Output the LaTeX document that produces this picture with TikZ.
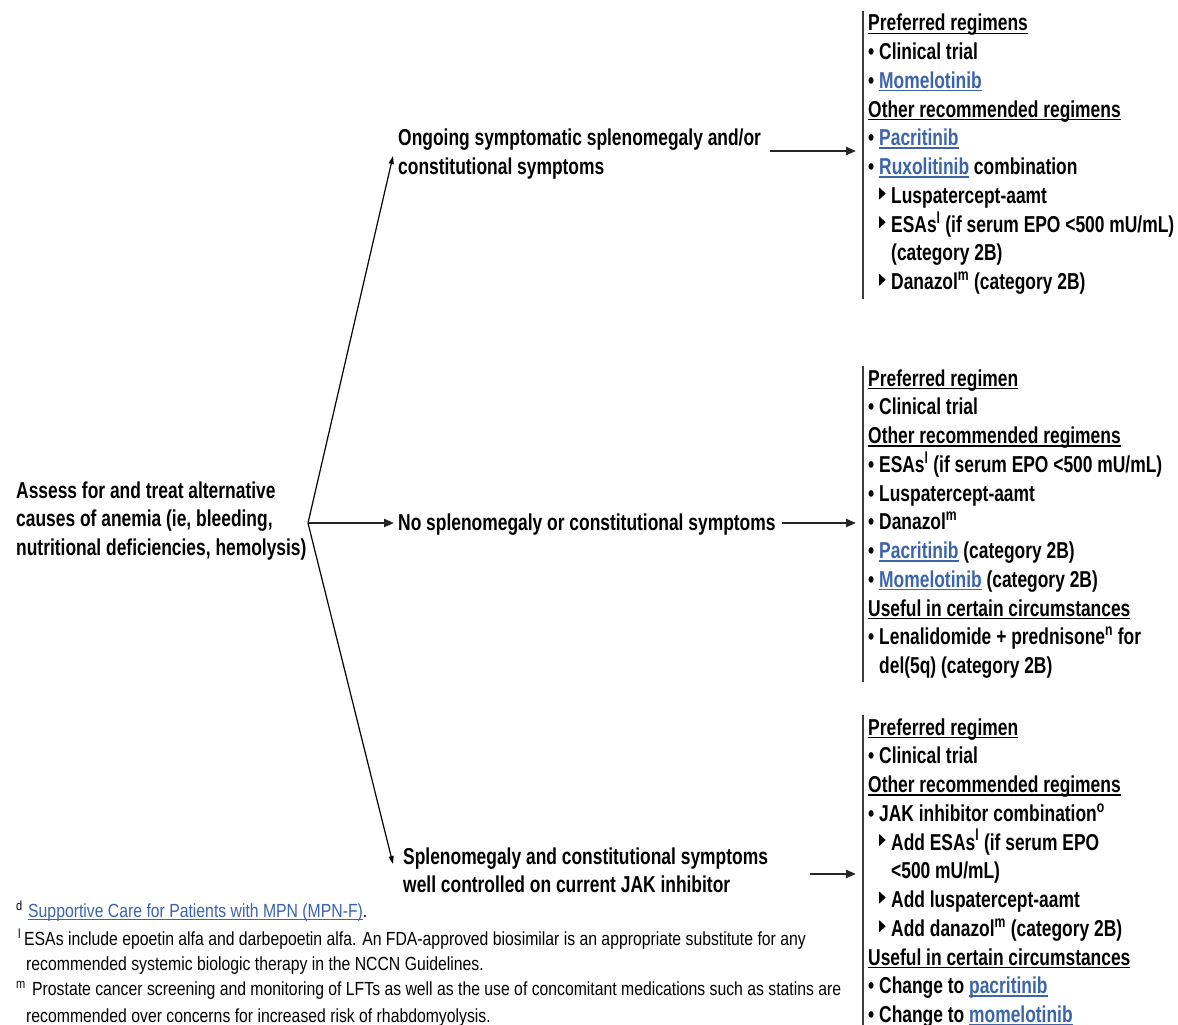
\documentclass[tikz,border=0pt]{standalone}
\usepackage{fontspec}
\setmainfont{Liberation Sans}[FakeStretch=0.757]
\newfontfamily\fnfont{Liberation Sans}[FakeStretch=0.83]
\usetikzlibrary{arrows.meta}
\definecolor{linkblue}{RGB}{60,100,170}
\definecolor{barcol}{RGB}{60,60,60}
\newsavebox\ulb
\newcommand\ulbox[3]{\leavevmode\sbox\ulb{#3}\rlap{\rule[-#1]{\wd\ulb}{#2}}\usebox\ulb}
\newcommand\lnk[1]{\textcolor{linkblue}{\ulbox{3pt}{1.5pt}{#1}}}
\newcommand\flnk[1]{\textcolor{linkblue}{\ulbox{3pt}{1pt}{#1}}}
\newcommand\hd[1]{\ulbox{3.2pt}{1.6pt}{#1}}
\newcommand\tri{\tikz[baseline=0pt]\fill (0pt,4pt)--(0pt,16pt)--(6.5pt,10pt)--cycle;}
\newcommand\bul[1]{\makebox[11pt][l]{•}#1}
\newcommand\subit[1]{\hspace*{11pt}\makebox[12pt][l]{\tri}#1}
\newcommand\contsub[1]{\hspace*{23pt}#1}
\newcommand\contbul[1]{\hspace*{11pt}#1}
\newcommand\sups[1]{\smash{\textsuperscript{#1}}}
\newcommand\fsup[1]{\smash{\textsuperscript{#1}}}
\begin{document}
\begin{tikzpicture}[x=1pt,y=-1pt,
  txt/.style={inner sep=0pt,anchor=base west,font=\fontsize{23}{28.75}\selectfont\bfseries},
  fnote/.style={inner sep=0pt,anchor=base west,font=\fnfont\fontsize{19}{25}\selectfont},
  arr/.style={-{Triangle[length=10pt,width=8pt]},line width=2.2pt,draw=black!85},
  diag/.style={-{Triangle[length=8pt,width=5pt]},line width=1.2pt},
  bar/.style={line width=1.5pt,draw=barcol}]
\useasboundingbox[fill=white] (0,0) rectangle (1178,1025);

% left node
\node[txt] (assess) at (16,498) {\begin{tabular}[t]{@{}l@{}}
Assess for and treat alternative\\
causes of anemia (ie, bleeding,\\
nutritional deficiencies, hemolysis)\end{tabular}};

% middle nodes
\node[txt] (ongoing) at (398,145.5) {\begin{tabular}[t]{@{}l@{}}
Ongoing symptomatic splenomegaly and/or\\
constitutional symptoms\end{tabular}};
\node[txt] (nosplen) at (398,530) {No splenomegaly or constitutional symptoms};
\node[txt] (wellctrl) at (403,864) {\begin{tabular}[t]{@{}l@{}}
Splenomegaly and constitutional symptoms\\
well controlled on current JAK inhibitor\end{tabular}};

% right columns
\node[txt] (col1) at (868,31) {\begin{tabular}[t]{@{}l@{}}
\hd{Preferred regimens}\\
\bul{Clinical trial}\\
\bul{\lnk{Momelotinib}}\\
\hd{Other recommended regimens}\\
\bul{\lnk{Pacritinib}}\\
\bul{\lnk{Ruxolitinib} combination}\\
\subit{Luspatercept-aamt}\\
\subit{ESAs\sups{l} (if serum EPO <500 mU/mL)}\\
\contsub{(category 2B)}\\
\subit{Danazol\sups{m} (category 2B)}\end{tabular}};

\node[txt] (col2) at (868,386) {\begin{tabular}[t]{@{}l@{}}
\hd{Preferred regimen}\\
\bul{Clinical trial}\\
\hd{Other recommended regimens}\\
\bul{ESAs\sups{l} (if serum EPO <500 mU/mL)}\\
\bul{Luspatercept-aamt}\\
\bul{Danazol\sups{m}}\\
\bul{\lnk{Pacritinib} (category 2B)}\\
\bul{\lnk{Momelotinib} (category 2B)}\\
\hd{Useful in certain circumstances}\\
\bul{Lenalidomide + prednisone\sups{n} for}\\
\contbul{del(5q) (category 2B)}\end{tabular}};

\node[txt] (col3) at (868,735) {\begin{tabular}[t]{@{}l@{}}
\hd{Preferred regimen}\\
\bul{Clinical trial}\\
\hd{Other recommended regimens}\\
\bul{JAK inhibitor combination\sups{o}}\\
\subit{Add ESAs\sups{l} (if serum EPO}\\
\contsub{<500 mU/mL)}\\
\subit{Add luspatercept-aamt}\\
\subit{Add danazol\sups{m} (category 2B)}\\
\hd{Useful in certain circumstances}\\
\bul{Change to \lnk{pacritinib}}\\
\bul{Change to \lnk{momelotinib}}\end{tabular}};

% vertical bars
\draw[bar] ([xshift=-5pt]col1.north west) -- ([xshift=-5pt]col1.south west);
\draw[bar] ([xshift=-5pt]col2.north west) -- ([xshift=-5pt]col2.south west);
\draw[bar] ([xshift=-5pt]col3.north west) -- ([xshift=-5pt]col3.south west);

% connectors
\coordinate (branch) at (308,523);
\coordinate (t1) at (393,156);
\coordinate (t2) at (394,523);
\coordinate (t3) at (393,864);
\draw[diag] (branch) -- (t1);
\draw[arr] (branch) -- (t2);
\draw[diag] (branch) -- (t3);

\coordinate (s1) at (770,151);
\coordinate (e1) at (856,151);
\coordinate (s2) at (782,523);
\coordinate (e2) at (856,523);
\coordinate (s3) at (810,874);
\coordinate (e3) at (856,874);
\draw[arr] (s1) -- (e1);
\draw[arr] (s2) -- (e2);
\draw[arr] (s3) -- (e3);

% footnotes
\node[fnote] (fd) at (16,917) {\makebox[12pt][l]{\fsup{d}}\flnk{Supportive Care for Patients with MPN (MPN-F)}.};
\node[fnote] (fl1) at (18,945) {\makebox[6pt][l]{\fsup{l}}ESAs include epoetin alfa and darbepoetin alfa. An FDA-approved biosimilar is an appropriate substitute for any};
\node[fnote] (fl2) at (26,970) {recommended systemic biologic therapy in the NCCN Guidelines.};
\node[fnote] (fm1) at (16,995) {\makebox[16pt][l]{\fsup{m}}Prostate cancer screening and monitoring of LFTs as well as the use of concomitant medications such as statins are};
\node[fnote] (fm2) at (26,1022) {recommended over concerns for increased risk of rhabdomyolysis.};
\end{tikzpicture}
\end{document}
